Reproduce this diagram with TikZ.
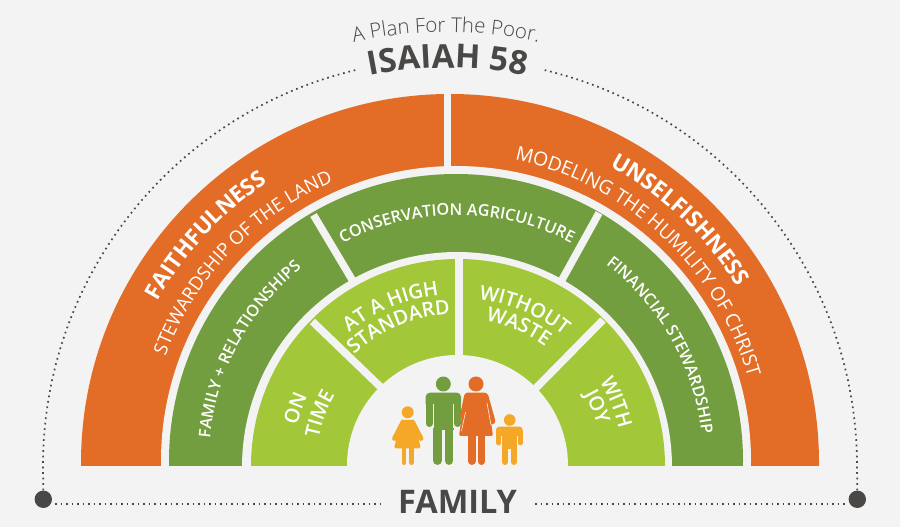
\documentclass[tikz,border=0pt]{standalone}
\usepackage{fontspec}
\setmainfont{Open Sans}
\newfontfamily\lightfont{Open Sans Light}
\newfontfamily\semifont{Open Sans Semibold}
\usetikzlibrary{decorations.text}
\definecolor{pagebg}{HTML}{F3F3F3}
\definecolor{ringorange}{HTML}{E36C27}
\definecolor{ringgreen}{HTML}{739E3F}
\definecolor{ringlime}{HTML}{A2C83A}
\definecolor{inkdark}{HTML}{4A4846}
\definecolor{kidyellow}{HTML}{F5A828}
% centre x, centre y, radius, start angle, end angle, font and colour, text
\newcommand{\bandlabel}[7]{%
  \path[decorate,decoration={text along path,text align=center,text={|#6|#7}}]
    (#1,#2) ++(#4+12:#3) arc[start angle=#4+12,end angle=#5-12,radius=#3pt];}
\newcommand{\bigbold}{\color{white}\bfseries\fontsize{22.5}{23}\selectfont}
\newcommand{\subtitle}{\color{white}\fontsize{18.7}{19}\selectfont}
\newcommand{\subtitlewide}{\color{white}\fontsize{19.3}{20}\selectfont}
\newcommand{\midlabel}{\color{white}\semifont\fontsize{16.2}{17}\selectfont}
\newcommand{\limelabel}{\color{white}\semifont\fontsize{20}{20}\selectfont}
\begin{document}
\begin{tikzpicture}[x=1pt,y=1pt]
    \tikzstyle{divider} = [draw=pagebg, line width=7.5pt]
    \tikzstyle{dotline} = [draw=inkdark, line width=1.7pt, dash pattern=on 1.7pt off 3.8pt]
    \tikzstyle{pin} = [circle, fill=inkdark, inner sep=0pt, minimum size=17.4pt]
    \fill[pagebg] (0,0) rectangle (900,527);
    \useasboundingbox (0,0) rectangle (900,527);

    % rings, each one laid over the last
    \begin{scope}
    \clip (0,61) rectangle (900,527);
    \fill[ringorange] (450,64) circle[radius=369];
    \draw[divider] (447.5,64) -- (447.5,527);
    \fill[pagebg] (456,66) circle[radius=295];
    \fill[ringgreen] (456,66) circle[radius=287];
    \draw[divider] (313.5,312) -- (350.5,250) -- (457,72);
    \draw[divider] (599,314) -- (563,249) -- (457,58);
    \fill[pagebg] (457,60) circle[radius=215];
    \fill[ringlime] (458,61) circle[radius=207];
    \draw[divider] (459,61) -- (459,270);
    \draw[divider] (312.5,205.5) -- (378.5,142) -- (458,65);
    \draw[divider] (603,207) -- (537,140) -- (458,60);
    \fill[pagebg] (457.5,61.5) circle[radius=110.5];
    \end{scope}

    \bandlabel{450}{64}{334}{150.5}{123.5}{\bigbold}{FAITHFULNESS}
    \bandlabel{450}{64}{337}{60.8}{32.4}{\bigbold}{UNSELFISHNESS}
    \bandlabel{450}{64}{304}{159}{113}{\subtitle}{STEWARDSHIP OF THE LAND}
    \bandlabel{450}{64}{310}{77.5}{16.5}{\subtitlewide}{MODELING THE HUMILITY OF CHRIST}
    \bandlabel{457}{66}{246}{118.6}{61.4}{\midlabel}{CONSERVATION AGRICULTURE}
    \bandlabel{456}{66}{247}{174.4}{129}{\midlabel}{FAMILY + RELATIONSHIPS}
    \bandlabel{456}{66}{247}{52}{7}{\midlabel}{FINANCIAL STEWARDSHIP}
    \bandlabel{458}{61}{172}{128.6}{97}{\limelabel}{AT A HIGH}
    \bandlabel{458}{61}{152}{132}{94}{\limelabel}{STANDARD}
    \bandlabel{458}{61}{168}{82}{52}{\limelabel}{WITHOUT}
    \bandlabel{458}{61}{148}{79}{54}{\limelabel}{WASTE}
    \bandlabel{458}{61}{166}{166}{155}{\limelabel}{ON}
    \bandlabel{458}{61}{142}{170}{149}{\limelabel}{TIME}
    \bandlabel{458}{61}{165}{30}{14}{\limelabel}{WITH}
    \bandlabel{458}{61}{145}{29}{17}{\limelabel}{JOY}

    % title over the top
    \bandlabel{446}{64}{431}{102.5}{77.5}{\color{inkdark}\lightfont\fontsize{20.5}{21}\selectfont}{A Plan For The Poor.}
    \bandlabel{447.5}{61}{398}{101}{79}{\color{inkdark}\bfseries\fontsize{33}{33}\selectfont}{ISAIAH 58}
    \node (familylabel) [anchor=base, text=inkdark, font=\bfseries\fontsize{32.5}{33}\selectfont] at (457.5,13) {FAMILY};

    \node (pinleft) [pin] at (43.3,27.7) {};
    \node (pinright) [pin] at (857.3,27.7) {};
    \coordinate (bottomleft) at (55,23);
    \coordinate (bottomright) at (847,23);
    \coordinate (stopleft) at (380,23);
    \coordinate (stopright) at (535,23);
    \draw[dotline] (pinleft.north) -- (43,61) arc[start angle=180,end angle=103,radius=407pt];
    \draw[dotline] (pinright.north) -- (857,61) arc[start angle=0,end angle=77,radius=407pt];
    \draw[dotline] (bottomleft) -- (stopleft);
    \draw[dotline] (stopright) -- (bottomright);

    % the family, in picture pixels
    \begin{scope}[yshift=527pt,yscale=-1]
    % man
    \fill[ringgreen] (443.3,384) circle[radius=7.5];
    \fill[ringgreen, rounded corners=4pt] (425.7,408) -- (425.7,392.7) -- (461,392.7) -- (461,408) -- cycle;
    \fill[ringgreen] (433,400) rectangle (453.5,430);
    \draw[ringgreen, line width=7pt, line cap=round] (429.2,400) -- (429.2,423.5);
    \draw[ringgreen, line width=7pt, line cap=round] (457.5,400) -- (457.5,423.5);
    \draw[ringgreen, line width=8.5pt, line cap=round] (437.5,425) -- (437.5,460.7);
    \draw[ringgreen, line width=8.5pt, line cap=round] (449,425) -- (449,460.7);
    \draw[pagebg, line width=.6pt] (433,404) -- (433,428);
    \draw[pagebg, line width=.6pt] (453.6,404) -- (453.6,428);
    % woman
    \fill[ringorange] (476,384) circle[radius=7.5];
    \draw[ringorange, line width=7pt, line cap=round] (467.5,396.5) -- (463.5,416);
    \draw[ringorange, line width=7pt, line cap=round] (485,396.5) -- (491.8,421);
    \fill[ringorange, rounded corners=2pt] (465,392.7) -- (487,392.7) -- (493,436) -- (459,436) -- cycle;
    \draw[pagebg, line width=.6pt] (465.5,412) -- (461.5,431);
    \draw[pagebg, line width=.6pt] (487,403) -- (491,425);
    \draw[ringorange, line width=7.5pt, line cap=round] (471.9,430) -- (471.9,461.2);
    \draw[ringorange, line width=7pt, line cap=round] (481,430) -- (481,461.5);
    % girl
    \fill[kidyellow] (407.7,412.3) circle[radius=6];
    \draw[kidyellow, line width=4.8pt, line cap=round] (403,422) -- (394.5,438.5);
    \draw[kidyellow, line width=4.8pt, line cap=round] (412.5,422) -- (421,438.5);
    \fill[kidyellow, rounded corners=1.5pt] (401,420) -- (414.5,420) -- (420.7,448.3) -- (394,448.3) -- cycle;
    \draw[kidyellow, line width=4.8pt, line cap=round] (404,445) -- (404,462.6);
    \draw[kidyellow, line width=4.8pt, line cap=round] (411.5,445) -- (411.5,462.6);
    % boy
    \fill[kidyellow] (509.7,420) circle[radius=5.8];
    \fill[kidyellow, rounded corners=3pt] (496,436) -- (496,426.7) -- (522.7,426.7) -- (522.7,436) -- cycle;
    \fill[kidyellow] (501.7,430) rectangle (517.3,449);
    \draw[kidyellow, line width=5pt, line cap=round] (498.5,432) -- (498.5,442.8);
    \draw[kidyellow, line width=5pt, line cap=round] (520.2,432) -- (520.2,442.8);
    \draw[kidyellow, line width=6pt, line cap=round] (505,445) -- (505,462);
    \draw[kidyellow, line width=6pt, line cap=round] (514,445) -- (514,462);
    \end{scope}
\end{tikzpicture}
\end{document}
